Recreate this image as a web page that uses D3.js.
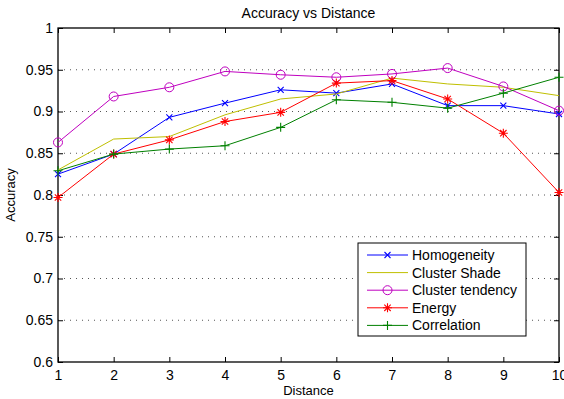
<!DOCTYPE html>
<html>
<head>
<meta charset="utf-8">
<script src="https://cdn.jsdelivr.net/npm/d3@7"></script>
<style>
  body { margin: 0; background: #fff; }
  svg { display: block; font-family: "Liberation Sans", Arial, sans-serif; }
</style>
</head>
<body>
<div id="chart"></div>
<script>
// data
const distances = [1, 2, 3, 4, 5, 6, 7, 8, 9, 10];
const yTicks = [0.6, 0.65, 0.7, 0.75, 0.8, 0.85, 0.9, 0.95, 1];
const homogeneity = [0.825, 0.849, 0.893, 0.910, 0.926, 0.922, 0.933, 0.907, 0.907, 0.897];
const clusterShade = [0.830, 0.867, 0.870, 0.896, 0.915, 0.921, 0.940, 0.933, 0.929, 0.919];
const clusterTendency = [0.863, 0.918, 0.929, 0.948, 0.944, 0.941, 0.945, 0.952, 0.930, 0.901];
const energy = [0.797, 0.849, 0.866, 0.888, 0.899, 0.934, 0.937, 0.915, 0.874, 0.803];
const correlation = [0.829, 0.849, 0.855, 0.859, 0.881, 0.914, 0.911, 0.904, 0.922, 0.941];

const series = [
  { name: "Homogeneity", values: homogeneity, color: "#0000ff", marker: "x" },
  { name: "Cluster Shade", values: clusterShade, color: "#bfbf00", marker: "none" },
  { name: "Cluster tendency", values: clusterTendency, color: "#bf00bf", marker: "o" },
  { name: "Energy", values: energy, color: "#ff0000", marker: "*" },
  { name: "Correlation", values: correlation, color: "#008000", marker: "+" }
];

const width = 564, height = 399;
const margin = { top: 28, right: 5, bottom: 37, left: 58 };

const svg = d3.select("#chart").append("svg")
  .attr("width", width)
  .attr("height", height);

const x = d3.scaleLinear().domain([1, 10]).range([margin.left, width - margin.right]);
const y = d3.scaleLinear().domain([0.6, 1]).range([height - margin.bottom, margin.top]);

// horizontal dotted grid
svg.append("g")
  .selectAll("line")
  .data(yTicks.slice(1, -1))
  .enter().append("line")
  .attr("x1", x(1)).attr("x2", x(10))
  .attr("y1", d => y(d)).attr("y2", d => y(d))
  .attr("stroke", "#555")
  .attr("stroke-width", 1)
  .attr("stroke-dasharray", "1,5");

// axes with inward ticks
const fmt = d => d3.format("")(+d.toFixed(2));
const xAxis = svg.append("g")
  .attr("transform", `translate(0,${y(0.6)})`)
  .call(d3.axisBottom(x).tickValues(distances).tickFormat(d3.format("d")).tickSizeInner(-5).tickSizeOuter(0).tickPadding(8));
const xTop = svg.append("g")
  .attr("transform", `translate(0,${y(1)})`)
  .call(d3.axisTop(x).tickValues(distances).tickFormat("").tickSizeInner(-5).tickSizeOuter(0));
const yAxis = svg.append("g")
  .attr("transform", `translate(${x(1)},0)`)
  .call(d3.axisLeft(y).tickValues(yTicks).tickFormat(fmt).tickSizeInner(-5).tickSizeOuter(0).tickPadding(5));
const yRight = svg.append("g")
  .attr("transform", `translate(${x(10)},0)`)
  .call(d3.axisRight(y).tickValues(yTicks).tickFormat("").tickSizeInner(-5).tickSizeOuter(0));

[xAxis, xTop, yAxis, yRight].forEach(g => {
  g.select(".domain").remove();
  g.selectAll("line").attr("stroke", "#000");
  g.selectAll("text").attr("fill", "#000").style("font-size", "14px").style("font-family", "'Liberation Sans', Arial, sans-serif");
});

// frame
svg.append("rect")
  .attr("x", x(1)).attr("y", y(1))
  .attr("width", x(10) - x(1)).attr("height", y(0.6) - y(1))
  .attr("fill", "none").attr("stroke", "#000").attr("stroke-width", 1.3);

// markers
function drawMarker(g, type, cx, cy, color) {
  if (type === "o") {
    g.append("circle").attr("cx", cx).attr("cy", cy).attr("r", 4.5)
      .attr("fill", "none").attr("stroke", color).attr("stroke-width", 1);
  } else if (type === "x") {
    const s = 3;
    g.append("path").attr("d", `M${cx - s},${cy - s}L${cx + s},${cy + s}M${cx - s},${cy + s}L${cx + s},${cy - s}`)
      .attr("stroke", color).attr("stroke-width", 1.1);
  } else if (type === "+") {
    const s = 4.5;
    g.append("path").attr("d", `M${cx - s},${cy}L${cx + s},${cy}M${cx},${cy - s}L${cx},${cy + s}`)
      .attr("stroke", color).attr("stroke-width", 1.1);
  } else if (type === "*") {
    const s = 4.5, d = 3.2;
    g.append("path").attr("d", `M${cx - s},${cy}L${cx + s},${cy}M${cx},${cy - s}L${cx},${cy + s}M${cx - d},${cy - d}L${cx + d},${cy + d}M${cx - d},${cy + d}L${cx + d},${cy - d}`)
      .attr("stroke", color).attr("stroke-width", 1.1);
  }
}

const line = d3.line().x((d, i) => x(distances[i])).y(d => y(d));

series.forEach(s => {
  const g = svg.append("g");
  g.append("path")
    .datum(s.values)
    .attr("d", line)
    .attr("fill", "none")
    .attr("stroke", s.color)
    .attr("stroke-width", 1);
  if (s.marker !== "none") {
    s.values.forEach((v, i) => drawMarker(g, s.marker, x(distances[i]), y(v), s.color));
  }
});

// legend
const legend = svg.append("g").attr("transform", "translate(358,243)");
legend.append("rect")
  .attr("width", 168).attr("height", 93)
  .attr("fill", "#fff").attr("stroke", "#000").attr("stroke-width", 1);
series.forEach((s, i) => {
  const ry = 12 + i * 17.6;
  legend.append("line")
    .attr("x1", 9).attr("x2", 50).attr("y1", ry).attr("y2", ry)
    .attr("stroke", s.color).attr("stroke-width", 1);
  if (s.marker !== "none") drawMarker(legend, s.marker, 29.5, ry, s.color);
  legend.append("text")
    .attr("x", 54).attr("y", ry + 5)
    .style("font-size", "14px")
    .text(s.name);
});

// title and axis labels
svg.append("text")
  .attr("x", (x(1) + x(10)) / 2).attr("y", 18)
  .attr("text-anchor", "middle")
  .style("font-size", "14px")
  .text("Accuracy vs Distance");
svg.append("text")
  .attr("x", (x(1) + x(10)) / 2).attr("y", 395)
  .attr("text-anchor", "middle")
  .style("font-size", "13px")
  .text("Distance");
svg.append("text")
  .attr("transform", `translate(15,${(y(0.6) + y(1)) / 2}) rotate(-90)`)
  .attr("text-anchor", "middle")
  .style("font-size", "13px")
  .text("Accuracy");
</script>
</body>
</html>
